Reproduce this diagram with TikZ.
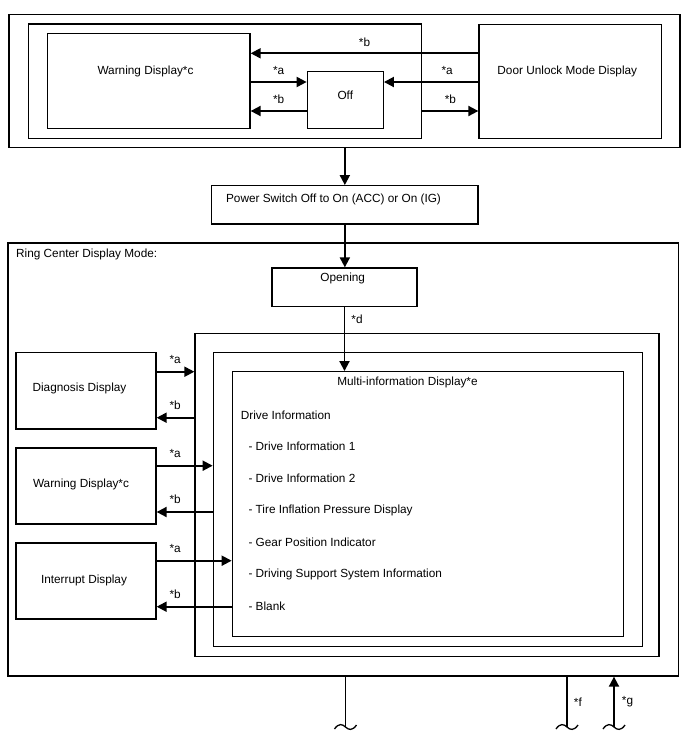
\documentclass[tikz,border=0pt]{standalone}
\usepackage{fontspec}
\setmainfont{Liberation Sans}
\usetikzlibrary{arrows.meta,positioning,calc}
\tikzset{
  box/.style={draw=black,line width=1.3pt,inner sep=0pt},
  arr/.style={-{Triangle[length=10pt,width=10pt]},line width=1.9pt},
  link/.style={line width=1.9pt},
  txt/.style={font=\fontsize{11.8}{14}\selectfont,inner sep=0pt},
  lab/.style={font=\fontsize{11.8}{14}\selectfont,inner sep=0pt}
}

\begin{document}
\begin{tikzpicture}[x=1pt,y=-1pt]
  \useasboundingbox (0,0) rectangle (688,755);

  % door unlock / warning group
  \node[box,minimum width=671pt,minimum height=133pt] (topouter) at (344.5,81.2) {};
  \node[box,minimum width=393.4pt,minimum height=114.3pt] (topinner) at (225,81.15) {};
  \node[box,minimum width=202.3pt,minimum height=95.4pt] (warntop) at (148.85,81) {};
  \node[box,minimum width=76pt,minimum height=57pt] (off) at (345.3,100.2) {};
  \node[box,minimum width=182.3pt,minimum height=114pt] (door) at (570.15,81.3) {};
  \node[txt] (warntoptext) at (145.5,71) {Warning Display*c};
  \node[txt] (offtext) at (345.3,95) {Off};
  \node[txt] (doortext) at (567.3,71) {Door Unlock Mode Display};

  \draw[arr] (door.west |- 0,53.3) -- node[lab,above=6pt]{*b} (warntop.east |- 0,53.3);
  \draw[arr] (warntop.east |- 0,82) -- node[lab,above=6pt]{*a} (off.west |- 0,82);
  \draw[arr] (door.west |- 0,82) -- node[lab,above=6pt,pos=0.33]{*a} (off.east |- 0,82);
  \draw[arr] (off.west |- 0,111) -- node[lab,above=6pt]{*b} (warntop.east |- 0,111);
  \draw[arr] (topinner.east |- 0,111) -- node[lab,above=6pt]{*b} (door.west |- 0,111);

  % power switch
  \node[box,minimum width=266.3pt,minimum height=38.3pt] (power) at (344.85,204.85) {};
  \node[txt] (powertext) at (333.5,199) {Power Switch Off to On (ACC) or On (IG)};
  \draw[arr] (topouter.south -| power.north) -- (power.north);

  % ring center display mode
  \node[box,minimum width=670.5pt,minimum height=433pt] (ring) at (343.25,459.5) {};
  \node[txt,anchor=west] (ringtext) at (16,254) {Ring Center Display Mode:};
  \node[box,minimum width=145pt,minimum height=38.7pt] (opening) at (344.5,287.35) {};
  \node[txt] (openingtext) at (342.7,278) {Opening};
  \draw[arr] (power.south) -- (power.south |- opening.north);

  \node[box,minimum width=464pt,minimum height=323.4pt] (nest1) at (427,495) {};
  \node[box,minimum width=429pt,minimum height=294.4pt] (nest2) at (427.8,499.5) {};
  \node[box,minimum width=391pt,minimum height=265pt] (info) at (427.8,504.2) {};
  \node[txt] (infotext) at (407.5,382.7) {Multi-information Display*e};
  \node[txt,anchor=west] (drive) at (240.7,415) {Drive Information};
  \foreach \t [count=\i] in {Drive Information 1,Drive Information 2,Tire Inflation Pressure Display,Gear Position Indicator,Driving Support System Information,Blank}
    \node[txt,anchor=west] (item\i) at (248.3,414.6+32*\i) {- \t};
  \draw[arr] (opening.south) -- node[lab,right=6pt,pos=0.19]{*d} (opening.south |- info.north);

  % left displays
  \node[box,minimum width=140pt,minimum height=76.3pt] (diag) at (86,390.85) {};
  \node[box,minimum width=140pt,minimum height=76pt] (warnl) at (86,486) {};
  \node[box,minimum width=140pt,minimum height=76pt] (intr) at (86,581) {};
  \node[txt] (diagtext) at (79.5,388) {Diagnosis Display};
  \node[txt] (warnltext) at (81,484) {Warning Display*c};
  \node[txt] (intrtext) at (84,580) {Interrupt Display};
  \foreach \n/\t/\ya/\yb in {diag/nest1/371.7/417.7,warnl/nest2/465.7/512,intr/info/560.7/606.7}{
    \draw[arr] (\n.east |- 0,\ya) node[lab,anchor=south west,xshift=12pt,yshift=7pt]{*a} -- (\t.west |- 0,\ya);
    \draw[arr] (\t.west |- 0,\yb) -- (\n.east |- 0,\yb) node[lab,anchor=south west,xshift=12pt,yshift=7pt]{*b};
  }

  % cut ends
  \coordinate (cut1) at (345.5,727);
  \coordinate (cut2) at (567,727);
  \coordinate (cut3) at (614,727);
  \draw[link] (ring.south -| cut1) -- (cut1);
  \draw[link] (ring.south -| cut2) -- node[lab,right=6pt]{*f} (cut2);
  \draw[arr] (cut3) -- node[lab,right=7pt]{*g} (ring.south -| cut3);
  \foreach \c in {cut1,cut2,cut3}
    \draw[line width=1.3pt] ($(\c)+(-11,2)$) .. controls ($(\c)+(-7,-4)$) and ($(\c)+(-3,-3)$) .. (\c) .. controls ($(\c)+(3,3)$) and ($(\c)+(7,4)$) .. ($(\c)+(11,-2)$);
\end{tikzpicture}
\end{document}
